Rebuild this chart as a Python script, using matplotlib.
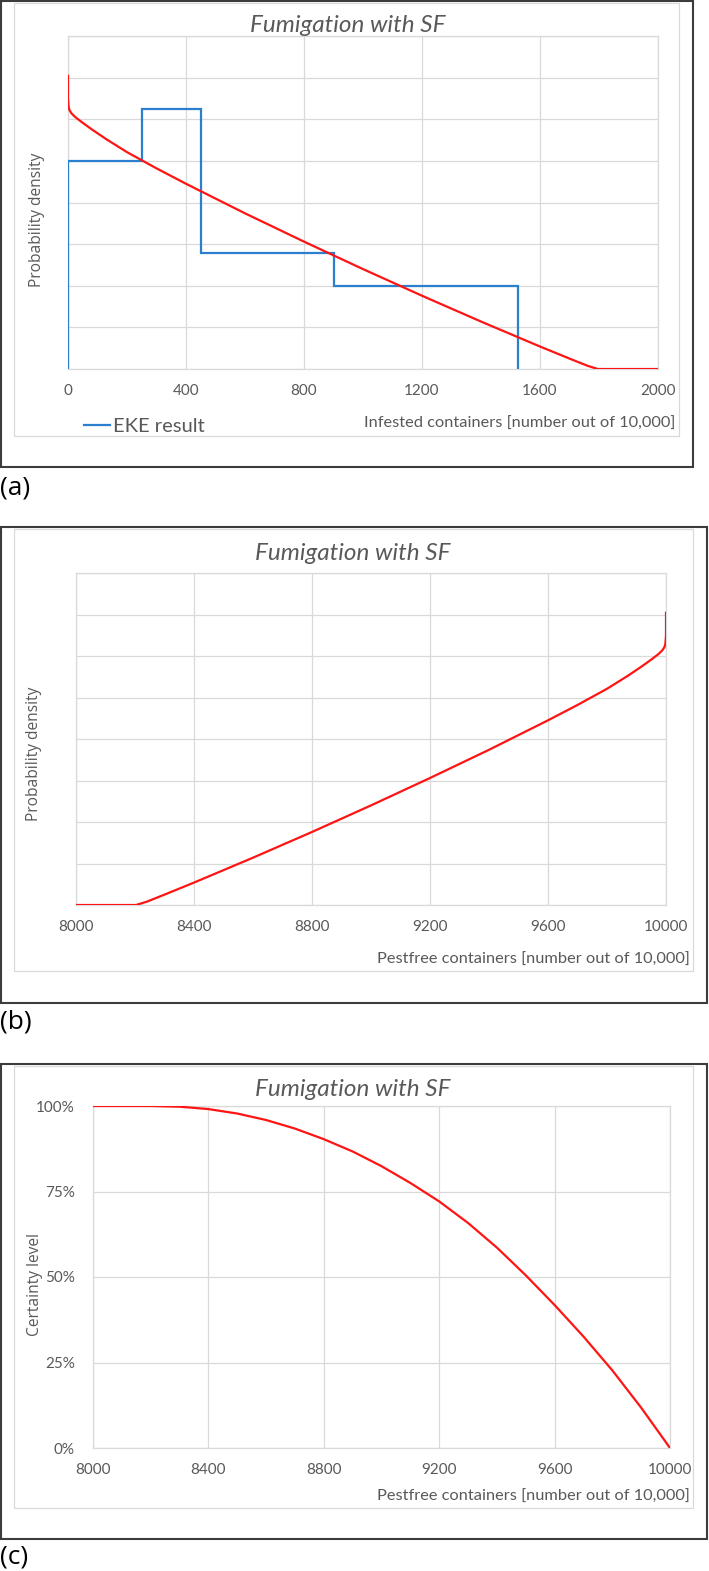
"""
Fumigation with SF — EKE density, pest-free density and certainty curve.
Three stacked Excel-style charts, each in its own framed box.
"""

import matplotlib
matplotlib.use("Agg")
import matplotlib.pyplot as plt
from matplotlib.patches import Rectangle
from matplotlib.lines import Line2D

W, H = 709, 1571
DPI = 100

RED = "#FF1414"
BLUE = "#2B7FCF"
GRID = "#D9D9D9"
TEXT = "#595959"
FRAME = "#3C3C3C"

TITLE = "Fumigation with SF"

# (a) EKE result as quartile bins (edges) and heights (grid units)
eke_edges = [0, 250, 450, 900, 1525]
eke_heights = [5.0, 6.25, 2.78, 2.0]

# (a) fitted density over infested containers
infested_x = [0, 0, 2, 5, 12, 25, 45, 80, 130, 200, 300, 400, 600, 800,
              1000, 1200, 1400, 1600, 1700, 1760, 1796, 2000]
infested_y = [7.07, 6.5, 6.3, 6.22, 6.14, 6.05, 5.94, 5.76, 5.52, 5.21, 4.82,
              4.45, 3.74, 3.06, 2.40, 1.76, 1.14, 0.54, 0.25, 0.08, 0.0, 0.0]

# (b) fitted density over pest-free containers
pestfree_x = [8000, 8204, 8240, 8300, 8400, 8600, 8800, 9000, 9200, 9400,
              9600, 9700, 9800, 9870, 9920, 9955, 9975, 9988, 9995, 9998,
              10000, 10000]
pestfree_y = [0.0, 0.0, 0.08, 0.25, 0.54, 1.14, 1.76, 2.40, 3.06, 3.74,
              4.45, 4.82, 5.21, 5.52, 5.76, 5.94, 6.05, 6.14, 6.22, 6.3,
              6.5, 7.07]

# (c) certainty level (%) over pest-free containers
certainty_x = [8000, 8200, 8300, 8400, 8500, 8600, 8700, 8800, 8900, 9000,
               9100, 9200, 9300, 9400, 9500, 9600, 9700, 9800, 9900, 10000]
certainty_y = [100, 100, 99.8, 99.1, 97.8, 95.9, 93.4, 90.3, 86.7, 82.4,
               77.5, 72.1, 65.8, 58.6, 50.5, 41.8, 32.6, 22.7, 11.8, 0]

infested_ticks = [0, 400, 800, 1200, 1600, 2000]
pestfree_ticks = [8000, 8400, 8800, 9200, 9600, 10000]
certainty_ticks = [0, 25, 50, 75, 100]

fig = plt.figure(figsize=(W / DPI, H / DPI), dpi=DPI)
fig.patch.set_facecolor("white")


def fx(x):
    return x / W


def fy(y):
    return 1 - y / H


def box(x0, y0, x1, y1, color, lw):
    fig.patches.append(Rectangle((fx(x0), fy(y1)), (x1 - x0) / W, (y1 - y0) / H,
                                 transform=fig.transFigure, fill=False,
                                 edgecolor=color, linewidth=lw))


def make_axes(x0, y0, x1, y1):
    ax = fig.add_axes([fx(x0), fy(y1), (x1 - x0) / W, (y1 - y0) / H])
    for s in ax.spines.values():
        s.set_color(GRID)
        s.set_linewidth(0.9)
    ax.grid(True, color=GRID, linewidth=0.9)
    ax.set_axisbelow(True)
    ax.tick_params(length=0, colors=TEXT, labelsize=11, pad=11)
    return ax


def style_ticks(ax):
    for lab in ax.get_xticklabels() + ax.get_yticklabels():
        lab.set_family("Lato")
        lab.set_color(TEXT)


def red_line(ax, x, y):
    ax.plot(x, y, color=RED, linewidth=1.6, zorder=4,
            solid_joinstyle="round", solid_capstyle="butt")


def titles(ytitle, ylab_x, ylab_y, ylab, xlab_x, xlab_y, xlab, title_x=353):
    fig.text(fx(title_x), fy(ytitle), TITLE, ha="center", va="center",
             fontsize=17.5, style="italic", family="Lato", color=TEXT)
    fig.text(fx(ylab_x), fy(ylab_y), ylab, rotation=90, ha="center",
             va="center", fontsize=11.2, family="Open Sans", color=TEXT)
    fig.text(fx(xlab_x), fy(xlab_y), xlab, ha="right", va="center",
             fontsize=11.8, family="Lato", color=TEXT)


def panel_label(y, text):
    fig.text(fx(0), fy(y), text, ha="left", va="center", fontsize=19,
             family="Open Sans", color="black")


# ---------------------------------------------------------------------------
# (a) infested containers
# ---------------------------------------------------------------------------
box(1, 1, 693, 467, FRAME, 1.5)
box(14, 3, 679, 436, GRID, 0.9)
ax = make_axes(68, 36, 658, 369)
ax.set_xlim(0, 2000)
ax.set_ylim(0, 8)
ax.set_xticks(infested_ticks)
ax.set_yticks(range(0, 9))
ax.set_yticklabels([])
ax.stairs(eke_heights, eke_edges, baseline=0, fill=False, color=BLUE,
          linewidth=1.6, zorder=3)
red_line(ax, infested_x, infested_y)
style_ticks(ax)
titles(25, 37, 220, "Probability density",
       675, 424, "Infested containers [number out of 10,000]", title_x=348)
fig.legend(handles=[Line2D([], [], color=BLUE, linewidth=1.6)],
           labels=["EKE result"], loc="center left",
           bbox_to_anchor=(fx(66), fy(426)), frameon=False, handlelength=1.3,
           handletextpad=0.15, prop={"family": "Lato", "size": 14.5},
           labelcolor=TEXT)
panel_label(488, "(a)")

# ---------------------------------------------------------------------------
# (b) pest-free containers, density
# ---------------------------------------------------------------------------
box(1, 527, 707, 1003, FRAME, 1.5)
box(14, 529, 693, 971, GRID, 0.9)
ax = make_axes(76, 573, 666, 905)
ax.set_xlim(8000, 10000)
ax.set_ylim(0, 8)
ax.set_xticks(pestfree_ticks)
ax.set_yticks(range(0, 9))
ax.set_yticklabels([])
red_line(ax, pestfree_x, pestfree_y)
style_ticks(ax)
titles(553, 34, 754, "Probability density",
       690, 960, "Pestfree containers [number out of 10,000]")
panel_label(1022, "(b)")

# ---------------------------------------------------------------------------
# (c) pest-free containers, certainty level
# ---------------------------------------------------------------------------
box(1, 1064, 707, 1539, FRAME, 1.5)
box(14, 1066, 693, 1508, GRID, 0.9)
ax = make_axes(93, 1106, 670, 1448)
ax.set_xlim(8000, 10000)
ax.set_ylim(0, 100)
ax.set_xticks(pestfree_ticks)
ax.set_yticks(certainty_ticks)
ax.set_yticklabels([f"{t}%" for t in certainty_ticks])
ax.tick_params(axis="y", pad=13)
red_line(ax, certainty_x, certainty_y)
style_ticks(ax)
titles(1089, 35, 1284, "Certainty level",
       690, 1497, "Pestfree containers [number out of 10,000]")
panel_label(1557, "(c)")

fig.savefig("out.png", dpi=DPI)
